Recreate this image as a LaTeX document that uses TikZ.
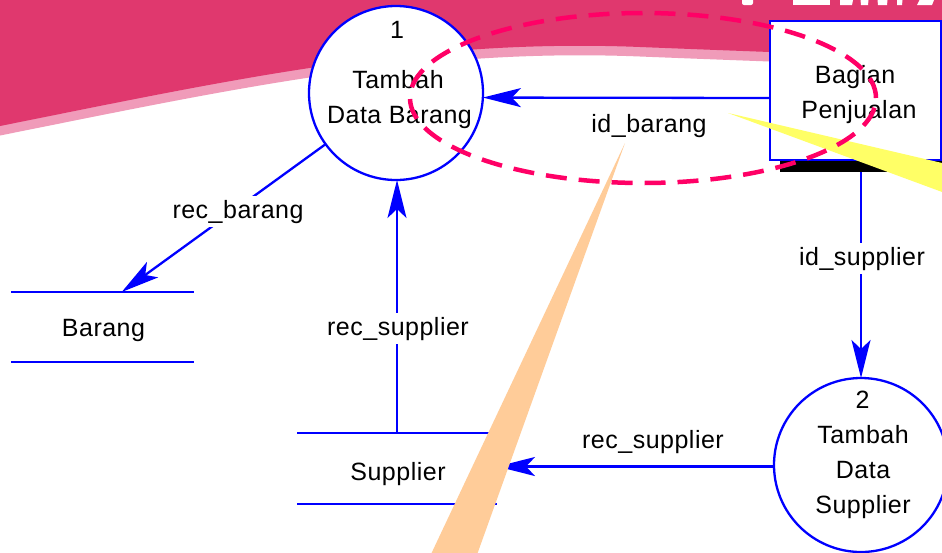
\documentclass[tikz,border=0pt]{standalone}
\usepackage{fontspec}
\setmainfont{Liberation Sans}[LetterSpace=2]
\usetikzlibrary{arrows.meta,calc,shadows}
\definecolor{dfdblue}{RGB}{0,0,255}
\definecolor{wavepink}{RGB}{224,56,110}
\definecolor{wavelight}{RGB}{240,155,185}
\definecolor{ringpink}{RGB}{255,0,102}
\definecolor{calloutyellow}{RGB}{255,255,102}
\definecolor{calloutpeach}{RGB}{255,204,153}
\newcommand\swooshpath{(-10,-10) -- (-10,130) -- (0,126) .. controls (230,80) and (420,38) .. (640,47) .. controls (740,51) and (850,55) .. (960,59) -- (960,-10) -- cycle}
\begin{document}
\begin{tikzpicture}[x=1pt,y=-1pt,
  every node/.style={font=\fontsize{25}{30}\selectfont, inner sep=0pt, outer sep=0pt},
  proc/.style={circle, draw=dfdblue, line width=2.3pt, fill=white, minimum size=174pt},
  ext/.style={rectangle, draw=dfdblue, line width=2.3pt, fill=white,
    minimum width=171pt, minimum height=139pt,
    drop shadow={shadow xshift=10pt, shadow yshift=-12pt, fill=black, opacity=1}},
  store/.style={rectangle, minimum height=70pt},
  storeline/.style={dfdblue, line width=2.3pt},
  flow/.style={dfdblue, line width=2.3pt, -{Stealth[length=38pt,width=19pt,inset=9pt]}},
  txt/.style={anchor=base, text=black},
  flowlbl/.style={anchor=base, text=black, fill=white, inner xsep=3pt, inner ysep=4pt},
  titlebit/.style={fill=white},
]
\useasboundingbox (0,0) rectangle (942,552);
\clip (0,0) rectangle (942,552);
\fill[white] (0,0) rectangle (942,552);

% header swoosh with its lighter rim
\begin{scope}[shift={(0,9.5)}]
  \fill[wavelight] \swooshpath;
\end{scope}
\fill[wavepink] \swooshpath;

% lower edge of the large white title lettering
\fill[titlebit, rounded corners=2pt] (742,-5) rectangle (753,5);
\fill[titlebit] (793,-5) rectangle (830,5);
\fill[titlebit] (840,-5) -- (854,-5) -- (852,5) -- (840,5) -- cycle;
\fill[titlebit] (860,-5) -- (869,-5) -- (868,5) -- (861,5) -- cycle;
\fill[titlebit] (877,-5) -- (888,-5) -- (887,5) -- (878,5) -- cycle;
\fill[titlebit] (897,-5) -- (903,-5) -- (902,5) -- (897,5) -- cycle;
\fill[titlebit] (922,-5) -- (936,-5) -- (932,5) -- (917,5) -- cycle;

% processes, external entity and data stores
\node[proc] (p1) at (396,93) {};
\node[proc] (p2) at (861,465) {};
\node[ext] (pj) at (855.5,90.5) {};
\node[store, minimum width=183pt] (brg) at (102.5,327) {};
\node[store, minimum width=200pt, minimum height=71pt] (sup) at (397,468.5) {};
\draw[storeline] (brg.north west) -- (brg.north east) (brg.south west) -- (brg.south east);
\draw[storeline] (sup.north west) -- (sup.north east) (sup.south west) -- (sup.south east);

% texts
\node[txt] (p1num) at (397,38) {1};
\node[txt] (p1a) at (398,88) {Tambah};
\node[txt] (p1b) at (399.5,123) {Data Barang};
\node[txt] (pja) at (855,83) {Bagian};
\node[txt] (pjb) at (859,118) {Penjualan};
\node[txt] (brgt) at (103.5,336) {Barang};
\node[txt] (supt) at (398,480) {Supplier};
\node[txt] (p2num) at (862.5,408) {2};
\node[txt] (p2a) at (863,443) {Tambah};
\node[txt] (p2b) at (863,478) {Data};
\node[txt] (p2c) at (863,513) {Supplier};

% data flows
\draw[flow] ($(pj.west)+(0,7.5)$) -- (p1.-3.3);
\draw[flow] ($(pj.south -| p2.north)+(0,12)$) -- (p2.north);
\draw[flow] (p2.181.3) -- (p2.181.3 -| sup.east);
\draw[flow] (sup.north) -- (sup.north |- p1.south);
\draw[flow] (p1.216) -- ($(brg.north west)!0.605!(brg.north east)$);

% flow labels
\node[flowlbl] (lidb) at (649,132) {id\_barang};
\node[flowlbl] (lrecb) at (238,218) {rec\_barang};
\node[flowlbl] (lrecs1) at (398,335) {rec\_supplier};
\node[flowlbl] (lids) at (862,265) {id\_supplier};
\node[flowlbl] (lrecs2) at (653,448) {rec\_supplier};

% callout wedges
\fill[calloutyellow] (728,113) -- (960,167.2) -- (960,198.6) -- cycle;
\fill[calloutpeach] (625,143) -- (425.9,565) -- (473.3,565) -- cycle;

% highlight ring
\draw[ringpink, line width=4.5pt, dash pattern=on 21pt off 12pt]
  (643,98) ellipse [x radius=233pt, y radius=85pt];
\end{tikzpicture}
\end{document}
